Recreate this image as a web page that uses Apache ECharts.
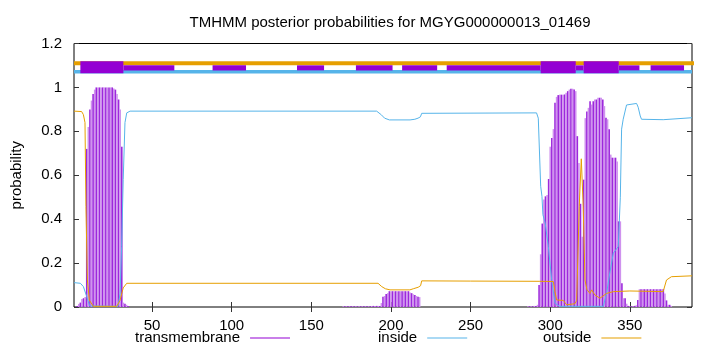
<!DOCTYPE html>
<html><head><meta charset="utf-8">
<script src="https://cdn.jsdelivr.net/npm/echarts@6/dist/echarts.min.js"></script>
<style>html,body{margin:0;padding:0;background:#fff}#c{width:720px;height:352px}</style>
</head><body><div id="c"></div>
<script>
const chartTitle = 'TMHMM posterior probabilities for MGYG000000013_01469';
const xMin = 1, xMax = 389;
const xTickValues = [50, 100, 150, 200, 250, 300, 350];
const seriesNames = ['transmembrane', 'inside', 'outside'];

// transmembrane posterior per residue (three non-zero stretches)
const tm1Start = 1;
const tm1 = [0, 0, 0.005, 0.014, 0.02, 0.036, 0.04, 0.045, 0.72, 0.82, 0.9, 0.94, 0.97, 0.99,
  1, 1, 1, 1, 1, 1, 1, 1, 1, 1, 1, 0.995, 0.99, 0.97, 0.945, 0.9, 0.73, 0.02, 0.015, 0.01, 0.005];
const tm2Start = 170;
const tm2 = [0.003, 0.003, 0.003, 0.003, 0.003, 0.003, 0.003, 0.003, 0.003, 0.003, 0.003, 0.003,
  0.003, 0.003, 0.003, 0.003, 0.003, 0.003, 0.005, 0.005, 0.005, 0.005, 0.005, 0.005,
  0.018, 0.047, 0.05, 0.059, 0.063, 0.072, 0.072, 0.072, 0.072, 0.072, 0.072, 0.072, 0.072,
  0.072, 0.072, 0.072, 0.072, 0.072, 0.066, 0.063, 0.058, 0.055, 0.05, 0.047, 0.045];
const tm3Start = 286;
const tm3 = [0.003, 0.003, 0.003, 0.003, 0.005, 0.005, 0.01, 0.1, 0.24, 0.38, 0.49, 0.504, 0.51,
  0.583, 0.73, 0.77, 0.81, 0.93, 0.957, 0.965, 0.967, 0.967, 0.967, 0.968, 0.976, 0.983, 0.99,
  0.994, 0.994, 0.99, 0.983, 0.778, 0.656, 0.47, 0.32, 0.58, 0.86, 0.89, 0.907, 0.937, 0.922,
  0.937, 0.945, 0.945, 0.953, 0.953, 0.953, 0.945, 0.915, 0.862, 0.855, 0.81, 0.694, 0.68, 0.68,
  0.68, 0.663, 0.39, 0.39, 0.108, 0.04, 0.04, 0.015, 0.005, 0.003, 0.003, 0.003, 0.005, 0.008,
  0.032, 0.081, 0.081, 0.081, 0.081, 0.081, 0.081, 0.081, 0.081, 0.081, 0.081, 0.081, 0.081,
  0.081, 0.081, 0.081, 0.081, 0.062, 0.03, 0.01, 0.01, 0.005];

// inside / outside posterior curves, [residue, probability]
const insidePts = [[1, 0.111], [5, 0.108], [6.9, 0.093], [9, 0.047], [10.8, 0.005], [28.6, 0.003],
  [29.9, 0.06], [30.9, 0.275], [31.9, 0.58], [33, 0.84], [34.1, 0.884], [36.2, 0.892], [191, 0.892],
  [194, 0.875], [196, 0.86], [199, 0.852], [212, 0.852], [215, 0.855], [217, 0.86], [218.5, 0.866],
  [219.3, 0.882], [291.4, 0.884], [292.5, 0.86], [294, 0.55], [294.8, 0.504], [295.4, 0.42],
  [296.8, 0.383], [298.8, 0.275], [300.9, 0.123], [303, 0.017], [306, 0.003], [333.3, 0.003],
  [335.4, 0.063], [337.5, 0.16], [339.6, 0.245], [342.7, 0.275], [344, 0.5], [344.8, 0.81],
  [345.8, 0.855], [347.9, 0.92], [349, 0.927], [354.2, 0.927], [355.2, 0.91], [356.5, 0.87],
  [357.3, 0.855], [370.9, 0.853], [389, 0.862]];
const outsidePts = [[1, 0.892], [5.8, 0.89], [6.9, 0.876], [7.9, 0.84], [8.5, 0.458], [9.4, 0.123],
  [10.6, 0.032], [13.1, 0.003], [27.8, 0.003], [29.9, 0.03], [31.9, 0.087], [34.1, 0.108],
  [191.9, 0.108], [194.2, 0.093], [196.5, 0.083], [199.4, 0.078], [211.9, 0.078], [214, 0.083],
  [217.1, 0.09], [218.6, 0.097], [219.3, 0.119], [250, 0.118], [293.5, 0.117], [301.9, 0.116],
  [303, 0.07], [304, 0.032], [308.2, 0.03], [310.3, 0.01], [315.5, 0.015], [316.6, 0.03],
  [318.2, 0.458], [319.5, 0.675], [320.7, 0.458], [321.8, 0.123], [323, 0.08], [324.9, 0.062],
  [326, 0.078], [328, 0.055], [331.2, 0.04], [335.4, 0.062], [339.6, 0.07], [350, 0.073],
  [370.9, 0.07], [373, 0.123], [376.1, 0.138], [389, 0.142]];

// predicted topology band at the top
const topOutsideLevel = 1.11;
const topOutsideEnd = 407;
const topInsideLevel = 1.071;
const topTmThick = [[5, 32], [294, 316], [321, 343]];
const topTmThin = [[32, 64], [88, 109], [141, 158], [178, 201], [207, 229], [235, 294], [316, 321],
  [343, 356], [363, 384]];

const FONT = 'Liberation Sans, Arial, sans-serif';
const FS = 15;
const PURPLE = '#9400d3', BLUE = '#56b4e9', ORANGE = '#e69f00';
const legendColors = [PURPLE, BLUE, ORANGE];

const tmData = [];
[[tm1Start, tm1], [tm2Start, tm2], [tm3Start, tm3]].forEach(([s, arr]) => {
  arr.forEach((v, i) => {
    const pos = s + i;
    tmData.push({ value: [pos, v], itemStyle: { color: pos % 2 ? '#9d28dc' : '#cf92ee' } });
  });
});

function bandRender(lo, hi) {
  return function (params, api) {
    const a = api.coord([api.value(0), hi]);
    const b = api.coord([api.value(1), lo]);
    return { type: 'rect', shape: { x: a[0], y: a[1], width: b[0] - a[0], height: b[1] - a[1] },
      style: { fill: PURPLE } };
  };
}

const chart = echarts.init(document.getElementById('c'), null, { renderer: 'canvas' });
const legendBase = {
  orient: 'horizontal', align: 'right', icon: 'rect', itemWidth: 40, itemHeight: 1, top: 330.5,
  padding: 0,
  textStyle: { fontFamily: FONT, fontSize: FS, color: '#000', padding: [0, 5, 0, 0] },
  selectedMode: false
};
const legendLefts = [135, 378, 543];
chart.setOption({
  animation: false,
  backgroundColor: '#fff',
  title: { text: chartTitle, left: 385, top: 10, textAlign: 'center',
    textStyle: { fontFamily: FONT, fontSize: FS, fontWeight: 'normal', color: '#000' } },
  legend: seriesNames.map((n, i) => Object.assign({}, legendBase, {
    left: legendLefts[i],
    data: [{ name: n, itemStyle: { color: legendColors[i], opacity: 1 } }]
  })),
  grid: { left: 74, right: 28, top: 43.5, bottom: 45, show: true, borderColor: '#000', borderWidth: 1,
    backgroundColor: 'transparent' },
  xAxis: [
    { type: 'value', min: xMin, max: xMax, position: 'bottom',
      axisLine: { show: false }, splitLine: { show: false },
      axisTick: { inside: true, length: 5, customValues: xTickValues, lineStyle: { color: '#333' } },
      axisLabel: { customValues: xTickValues, margin: 11, fontFamily: FONT, fontSize: FS, color: '#000' } },
    { type: 'value', min: xMin, max: xMax, position: 'top',
      axisLine: { show: false }, splitLine: { show: false },
      axisTick: { inside: true, length: 5, customValues: xTickValues, lineStyle: { color: '#333' } },
      axisLabel: { show: false } }
  ],
  yAxis: [
    { type: 'value', min: 0, max: 1.2, interval: 0.2, position: 'left',
      name: 'probability', nameLocation: 'middle', nameGap: 50,
      nameTextStyle: { fontFamily: FONT, fontSize: FS, color: '#000' },
      axisLine: { show: false }, splitLine: { show: false },
      axisTick: { inside: true, length: 5, lineStyle: { color: '#333' } },
      axisLabel: { margin: 12, fontFamily: FONT, fontSize: FS, color: '#000' } },
    { type: 'value', min: 0, max: 1.2, interval: 0.2, position: 'right',
      axisLine: { show: false }, splitLine: { show: false },
      axisTick: { inside: true, length: 5, lineStyle: { color: '#333' } },
      axisLabel: { show: false } }
  ],
  series: [
    { name: seriesNames[0], type: 'bar', data: tmData, barWidth: 1.6, itemStyle: { color: PURPLE },
      z: 2 },
    { name: seriesNames[1], type: 'line', data: insidePts, showSymbol: false, color: BLUE,
      itemStyle: { color: BLUE }, lineStyle: { color: BLUE, width: 1 }, z: 3 },
    { name: seriesNames[2], type: 'line', data: outsidePts, showSymbol: false, color: ORANGE,
      itemStyle: { color: ORANGE }, lineStyle: { color: ORANGE, width: 1 }, z: 4 },
    { name: 'topOutside', type: 'line', data: [[xMin, topOutsideLevel], [topOutsideEnd, topOutsideLevel]],
      showSymbol: false, clip: false, lineStyle: { color: ORANGE, width: 4 }, z: 5 },
    { name: 'topInside', type: 'line', data: [[xMin, topInsideLevel], [xMax, topInsideLevel]],
      showSymbol: false, lineStyle: { color: BLUE, width: 3.5 }, z: 5 },
    { name: 'topThin', type: 'custom', data: topTmThin, encode: { x: [0, 1] },
      renderItem: bandRender(1.0776, 1.1005), z: 6 },
    { name: 'topThick', type: 'custom', data: topTmThick, encode: { x: [0, 1] },
      renderItem: bandRender(1.064, 1.119), z: 6 }
  ]
});
</script></body></html>
